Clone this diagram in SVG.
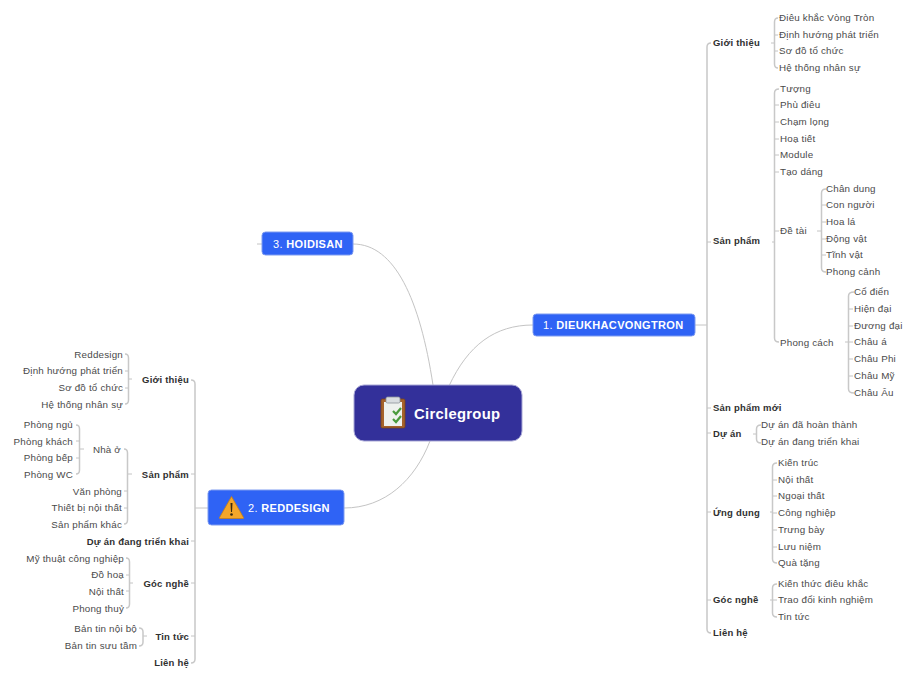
<svg xmlns="http://www.w3.org/2000/svg" width="917" height="679" viewBox="0 0 917 679">
<style>
text{font-family:"Liberation Sans",Arial,sans-serif;dominant-baseline:central}
.t{font-size:9.8px;fill:#4a4a4a;letter-spacing:.2px}
.b{font-size:9.5px;font-weight:bold;fill:#303030;letter-spacing:.22px}
.e{text-anchor:end}
.n{font-size:11px;fill:#fff;font-weight:bold;letter-spacing:.35px}
.n tspan{font-weight:normal}
.c{fill:none;stroke:#c4c4c4;stroke-width:1}
.s{fill:none;stroke:#c8c8c8;stroke-width:1.5}
.box{fill:#2f63f5;stroke:#7f9cf0;stroke-width:1}
</style>
<rect width="917" height="679" fill="#fff"/>
<g id="connectors">
<path class="c" d="M449 386C468 345 495 325 533 325"/>
<path class="c" d="M433 385C420 300 395 244 353 244"/>
<path class="c" d="M430 441C415 480 385 508 344 508"/>
<path class="c" d="M695 325H707M208 508H195M257 244H262"/>
<path class="s" d="M711 43Q707 43 707 47V629Q707 633 711 633"/>
<path class="c" d="M707 242H711M707 408H711M707 433H711M707 512H711M707 600H711"/>
<path class="c" d="M771 43H775"/><path class="s" d="M778 18Q774.500 18 774.500 22V64Q774.500 68 778 68"/>
<path class="c" d="M775 35H778M775 51H778"/>
<path class="c" d="M772 242H775"/><path class="s" d="M779 89Q774.500 89 774.500 93V338Q774.500 342 779 342"/>
<path class="c" d="M775 105H779M775 122H779M775 139H779M775 155H779M775 172H779M775 231H779"/>
<path class="c" d="M817 231H821"/><path class="s" d="M826 189Q821.500 189 821.500 193V268Q821.500 272 826 272"/>
<path class="c" d="M822 205H826M822 222H826M822 239H826M822 255H826"/>
<path class="c" d="M845 342H849"/><path class="s" d="M854 292Q848.500 292 848.500 296V389Q848.500 393 854 393"/>
<path class="c" d="M849 309H853M849 326H853M849 342H853M849 359H853M849 376H853"/>
<path class="c" d="M753 434H757"/><path class="s" d="M761 425Q756.500 425 756.500 429V439Q756.500 443 761 443"/>
<path class="c" d="M770 512H773"/><path class="s" d="M777 463Q772.500 463 772.500 467V559Q772.500 563 777 563"/>
<path class="c" d="M773 480H777M773 496H777M773 513H777M773 530H777M773 547H777"/>
<path class="c" d="M770 600H773"/><path class="s" d="M777 584Q772.500 584 772.500 588V613Q772.500 617 777 617"/>
<path class="c" d="M773 600H777"/>
<path class="s" d="M191 380Q195 380 195 384V659Q195 663 191 663"/>
<path class="c" d="M195 474H191M195 541H191M195 583H191M195 636H191"/>
<path class="c" d="M132 379H128"/><path class="s" d="M125 354Q128.500 354 128.500 358V400Q128.500 404 125 404"/>
<path class="c" d="M128 371H125M128 388H125"/>
<path class="c" d="M132 474H128"/><path class="s" d="M124 449Q127.500 449 127.500 453V520Q127.500 524 124 524"/>
<path class="c" d="M128 491H124M128 508H124"/>
<path class="c" d="M84 449H80"/><path class="s" d="M76 425Q79.500 425 79.500 429V470Q79.500 474 76 474"/>
<path class="c" d="M80 441H76M80 458H76"/>
<path class="c" d="M133 583H129"/><path class="s" d="M126 558Q129.500 558 129.500 562V604Q129.500 608 126 608"/>
<path class="c" d="M129 575H126M129 591H126"/>
<path class="c" d="M147 636H143"/><path class="s" d="M139 628Q143 628 143 632V642Q143 646 139 646"/>
</g>
<g id="root">
<rect x="354" y="385" width="168" height="56" rx="10" fill="#33309a" stroke="#a9a8d6" stroke-width="1"/>
<g id="clipboard-icon">
<rect x="381" y="399" width="24" height="29" rx="1.500" fill="#a5622b" stroke="#7a4418" stroke-width=".8"/>
<rect x="384" y="402" width="18" height="24" fill="#eef1ee"/>
<rect x="386" y="397" width="14" height="6" rx="1.500" fill="#d9dde0" stroke="#8c9298" stroke-width=".8"/>
<path d="M393 411L396 414L401 408M393 419L396 422L401 416" fill="none" stroke="#4a9a3c" stroke-width="2.200"/>
</g>
<text x="414" y="414" style="font-size:14.800px;font-weight:bold;fill:#fff;letter-spacing:.3px">Circlegroup</text>
</g>
<g id="node-1"><rect class="box" x="533" y="314" width="162" height="22" rx="3.500"/><text class="n" x="543" y="325"><tspan>1. </tspan>DIEUKHACVONGTRON</text></g>
<g id="node-3"><rect class="box" x="262" y="232" width="91" height="23" rx="3.500"/><text class="n" x="273" y="244"><tspan>3. </tspan>HOIDISAN</text></g>
<g id="node-2"><rect class="box" x="208" y="490" width="136" height="35" rx="3.500"/>
<path d="M231.500 496.500L243.500 517.500Q244 518.500 242.500 518.500H220.500Q219 518.500 219.500 517.500Z" fill="#f4a62a" stroke="#c77f16" stroke-width=".8"/>
<path d="M230.500 503H232.500L232 512H231Z" fill="#3a2a10"/><circle cx="231.500" cy="514.500" r="1.300" fill="#3a2a10"/>
<text class="n" x="248" y="508"><tspan>2. </tspan>REDDESIGN</text></g>
<g id="right-branch" transform="translate(0 -1)">
<text class="b" x="713" y="43">Giới thiệu</text>
<text class="t" x="779" y="18">Điêu khắc Vòng Tròn</text>
<text class="t" x="779" y="35">Định hướng phát triển</text>
<text class="t" x="779" y="51">Sơ đồ tổ chức</text>
<text class="t" x="779" y="68">Hệ thống nhân sự</text>
<text class="b" x="713" y="241">Sản phẩm</text>
<text class="t" x="780" y="89">Tượng</text>
<text class="t" x="780" y="105">Phù điêu</text>
<text class="t" x="780" y="122">Chạm lọng</text>
<text class="t" x="780" y="139">Hoạ tiết</text>
<text class="t" x="780" y="155">Module</text>
<text class="t" x="780" y="172">Tạo dáng</text>
<text class="t" x="780" y="231">Đề tài</text>
<text class="t" x="826" y="189">Chân dung</text>
<text class="t" x="826" y="205">Con người</text>
<text class="t" x="826" y="222">Hoa lá</text>
<text class="t" x="826" y="239">Động vật</text>
<text class="t" x="826" y="255">Tĩnh vật</text>
<text class="t" x="826" y="272">Phong cảnh</text>
<text class="t" x="780" y="343">Phong cách</text>
<text class="t" x="854" y="292">Cổ điển</text>
<text class="t" x="854" y="309">Hiện đại</text>
<text class="t" x="854" y="326">Đương đại</text>
<text class="t" x="854" y="342">Châu á</text>
<text class="t" x="854" y="359">Châu Phi</text>
<text class="t" x="854" y="376">Châu Mỹ</text>
<text class="t" x="854" y="393">Châu Âu</text>
<text class="b" x="713" y="408">Sản phẩm mới</text>
<text class="b" x="713" y="434">Dự án</text>
<text class="t" x="761" y="425">Dự án đã hoàn thành</text>
<text class="t" x="761" y="442">Dự án đang triển khai</text>
<text class="b" x="713" y="513">Ứng dụng</text>
<text class="t" x="778" y="463">Kiến trúc</text>
<text class="t" x="778" y="480">Nội thất</text>
<text class="t" x="778" y="496">Ngoại thất</text>
<text class="t" x="778" y="513">Công nghiệp</text>
<text class="t" x="778" y="530">Trưng bày</text>
<text class="t" x="778" y="547">Lưu niệm</text>
<text class="t" x="778" y="563">Quà tặng</text>
<text class="b" x="713" y="600">Góc nghề</text>
<text class="t" x="778" y="584">Kiến thức điêu khắc</text>
<text class="t" x="778" y="600">Trao đổi kinh nghiệm</text>
<text class="t" x="778" y="617">Tin tức</text>
<text class="b" x="713" y="633">Liên hệ</text>
</g>
<g id="left-branch" transform="translate(0 -1)">
<text class="b e" x="189" y="380">Giới thiệu</text>
<text class="t e" x="123" y="355">Reddesign</text>
<text class="t e" x="123" y="371">Định hướng phát triển</text>
<text class="t e" x="123" y="388">Sơ đồ tổ chức</text>
<text class="t e" x="123" y="405">Hệ thống nhân sự</text>
<text class="b e" x="189" y="475">Sản phẩm</text>
<text class="t e" x="121" y="450">Nhà ở</text>
<text class="t e" x="73" y="425">Phòng ngủ</text>
<text class="t e" x="73" y="442">Phòng khách</text>
<text class="t e" x="73" y="458">Phòng bếp</text>
<text class="t e" x="73" y="475">Phòng WC</text>
<text class="t e" x="122" y="492">Văn phòng</text>
<text class="t e" x="122" y="508">Thiết bị nội thất</text>
<text class="t e" x="122" y="525">Sản phẩm khác</text>
<text class="b e" x="189" y="542">Dự án đang triển khai</text>
<text class="b e" x="189" y="584">Góc nghề</text>
<text class="t e" x="124" y="559">Mỹ thuật công nghiệp</text>
<text class="t e" x="124" y="575">Đồ hoạ</text>
<text class="t e" x="124" y="592">Nội thất</text>
<text class="t e" x="124" y="609">Phong thuỷ</text>
<text class="b e" x="189" y="637">Tin tức</text>
<text class="t e" x="137" y="629">Bản tin nội bộ</text>
<text class="t e" x="137" y="646">Bản tin sưu tầm</text>
<text class="b e" x="189" y="663">Liên hệ</text>
</g>
</svg>
